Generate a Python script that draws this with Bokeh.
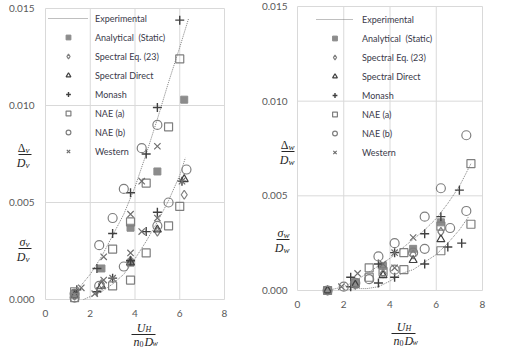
from bokeh.plotting import figure
from bokeh.models import (Legend, LegendItem, Label, Arrow, FixedTicker,
                          NumeralTickFormatter, Range1d)
from bokeh.layouts import row
from bokeh.embed import file_html
from bokeh.resources import INLINE

# ---------------- data: left panel (v) ----------------
x_ticks = [0, 2, 4, 6, 8]
y_ticks = [0.0, 0.005, 0.010, 0.015]

exp_v_x1 = [1.25, 1.5, 2.0, 2.5, 3.0, 3.5, 4.0, 4.5, 5.0, 5.5, 6.0, 6.4]
exp_v_y1 = [0.0, 0.0006, 0.0013, 0.0022, 0.0033, 0.0044, 0.0058, 0.0075, 0.0093, 0.0112, 0.0130, 0.0145]
exp_v_x2 = [1.7, 2.5, 3.0, 3.5, 4.0, 4.5, 5.0, 5.5, 6.0, 6.25]
exp_v_y2 = [0.0, 0.0004, 0.0008, 0.0013, 0.0021, 0.0030, 0.0040, 0.0051, 0.0064, 0.0073]

ana_v_x = [1.3, 2.5, 3.8, 5.0, 6.2, 3.8]
ana_v_y = [0.0003, 0.0016, 0.0037, 0.0066, 0.0103, 0.0019]
speq_v_x = [1.3, 2.5, 3.8, 5.0, 6.2]
speq_v_y = [0.0002, 0.0008, 0.0020, 0.0035, 0.0054]
spdir_v_x = [1.3, 2.5, 3.8, 5.0, 6.2]
spdir_v_y = [0.0002, 0.0007, 0.0019, 0.0036, 0.0062]
mon_v_x = [1.4, 2.3, 3.0, 3.8, 4.5, 5.0, 6.0, 2.3, 3.0, 3.8, 4.5, 5.0, 6.1]
mon_v_y = [0.0005, 0.0016, 0.0034, 0.0055, 0.0075, 0.0099, 0.0144, 0.0004, 0.0011, 0.0020, 0.0035, 0.0045, 0.0061]
naea_v_x = [1.3, 3.0, 3.8, 4.5, 5.5, 6.0, 1.3, 3.0, 3.8, 4.5, 5.5, 6.0]
naea_v_y = [0.0004, 0.0026, 0.0040, 0.0060, 0.0089, 0.0124, 0.0001, 0.0007, 0.0010, 0.0024, 0.0038, 0.0048]
naeb_v_x = [1.3, 2.4, 3.0, 3.5, 4.3, 5.0, 1.3, 2.4, 3.5, 5.0, 5.5, 6.3]
naeb_v_y = [0.0003, 0.0028, 0.0042, 0.0057, 0.0078, 0.0090, 0.0001, 0.0007, 0.0017, 0.0038, 0.0050, 0.0067]
west_v_x = [1.6, 2.6, 3.8, 4.3, 5.0, 2.2, 2.6, 3.0, 3.8, 4.3, 5.0, 6.1]
west_v_y = [0.0006, 0.0022, 0.0044, 0.0061, 0.0079, 0.0003, 0.0010, 0.0011, 0.0024, 0.0035, 0.0042, 0.0061]

# ---------------- data: right panel (w) ----------------
exp_w_x1 = [1.3, 2.0, 2.5, 3.0, 3.5, 4.0, 4.5, 5.0, 5.5, 6.0, 6.5, 7.0, 7.5]
exp_w_y1 = [0.0, 0.0002, 0.0005, 0.0009, 0.0013, 0.0017, 0.0022, 0.0027, 0.0032, 0.0038, 0.0046, 0.0055, 0.0067]
exp_w_x2 = [1.9, 2.5, 3.0, 3.5, 4.0, 4.5, 5.0, 5.5, 6.0, 6.5, 7.0, 7.4]
exp_w_y2 = [0.0, 0.0001, 0.0001, 0.0002, 0.0005, 0.0009, 0.0011, 0.0015, 0.0019, 0.0025, 0.0032, 0.0039]

ana_w_x = [1.3, 2.5, 3.7, 5.0, 6.2]
ana_w_y = [0.0, 0.0004, 0.0013, 0.0022, 0.0036]
speq_w_x = [1.3, 2.5, 3.7, 5.0, 6.2]
speq_w_y = [0.0, 0.0003, 0.0009, 0.0019, 0.0031]
spdir_w_x = [1.3, 2.5, 3.7, 5.0, 6.2]
spdir_w_y = [0.0, 0.0003, 0.0008, 0.0016, 0.0027]
mon_w_x = [2.3, 2.3, 3.5, 3.5, 4.2, 4.2, 5.5, 5.5, 6.2, 6.5, 7.0, 7.1]
mon_w_y = [0.0007, 0.0002, 0.0014, 0.0004, 0.0020, 0.0007, 0.0030, 0.0014, 0.0039, 0.0023, 0.0053, 0.0025]
naea_w_x = [1.3, 2.5, 3.1, 3.1, 3.7, 4.6, 4.6, 6.2, 6.2, 7.5, 7.5]
naea_w_y = [0.0, 0.0004, 0.0012, 0.0007, 0.0010, 0.0020, 0.0011, 0.0034, 0.0021, 0.0067, 0.0035]
naeb_w_x = [1.3, 2.0, 2.5, 3.1, 3.5, 4.2, 4.2, 5.0, 5.5, 5.5, 6.2, 6.6, 7.3, 7.3]
naeb_w_y = [0.0, 0.0002, 0.0004, 0.0006, 0.0018, 0.0025, 0.0011, 0.0020, 0.0039, 0.0022, 0.0054, 0.0033, 0.0082, 0.0042]
west_w_x = [1.9, 2.6, 3.7, 4.2, 4.2, 5.0]
west_w_y = [0.0002, 0.0009, 0.0014, 0.0020, 0.0012, 0.0028]

labels = ["Experimental", "Analytical  (Static)", "Spectral Eq. (23)", "Spectral Direct",
          "Monash", "NAE (a)", "NAE (b)", "Western"]

TICK_FONT = "Lato"
GRID = "#d9d9d9"
MATH_FONT = "Liberation Serif"
MATH_COLOR = "#262626"
H = 350


def make_panel(W, px0, px1, py_top, py_bot, ystand, data, leg_x, leg_top, glyph_w, standoff):
    xmax, ymax = x_ticks[-1], y_ticks[-1]
    kx = (px1 - px0) / xmax
    ky = (py_bot - py_top) / ymax
    p = figure(width=W, height=H,
               x_range=Range1d(-px0 / kx, (W - px0) / kx),
               y_range=Range1d(-(H - py_bot) / ky, ymax + py_top / ky),
               output_backend="svg", toolbar_location=None,
               min_border=0, min_border_left=0, min_border_right=0,
               min_border_top=0, min_border_bottom=0)
    p.background_fill_color = "white"
    p.border_fill_color = "white"
    p.outline_line_color = None
    p.xgrid.visible = False
    p.ygrid.visible = False

    # gridlines / plot-area box at the tick positions
    p.segment(x0=x_ticks, y0=[0] * len(x_ticks), x1=x_ticks, y1=[ymax] * len(x_ticks),
              line_color=GRID, line_width=1)
    p.segment(x0=[0] * len(y_ticks), y0=y_ticks, x1=[xmax] * len(y_ticks), y1=y_ticks,
              line_color=GRID, line_width=1)

    p.xaxis.ticker = FixedTicker(ticks=x_ticks)
    p.yaxis.ticker = FixedTicker(ticks=y_ticks)
    p.yaxis.formatter = NumeralTickFormatter(format="0.000")
    p.xaxis.fixed_location = 0
    p.yaxis.fixed_location = 0
    for ax in (p.xaxis[0], p.yaxis[0]):
        ax.axis_line_color = None
        ax.major_tick_line_color = None
        ax.minor_tick_line_color = None
        ax.major_label_text_font = TICK_FONT
        ax.major_label_text_font_size = "10px"
        ax.major_label_text_color = "#595959"
    p.xaxis.major_label_standoff = 4
    p.yaxis.major_label_standoff = ystand

    (ex1, ey1, ex2, ey2, ax_, ay_, sx_, sy_, dx_, dy_, mx_, my_, nax, nay, nbx, nby, wx_, wy_) = data
    r_exp = p.line(ex1, ey1, line_color="#7f7f7f", line_dash="1 1", line_width=1)
    p.line(ex2, ey2, line_color="#7f7f7f", line_dash="1 1", line_width=1)
    r_ana = p.scatter(ax_, ay_, marker="square", size=7, fill_color="#8c8c8c", line_color="#8c8c8c")
    r_seq = p.scatter(sx_, sy_, marker="diamond", size=9, fill_color=None, line_color="#7f7f7f", line_width=1.2)
    r_sdi = p.scatter(dx_, dy_, marker="triangle", size=8, fill_color=None, line_color="#404040", line_width=1.2)
    r_mon = p.scatter(mx_, my_, marker="cross", size=9, line_color="#404040", line_width=1.4)
    r_naa = p.scatter(nax, nay, marker="square", size=8, fill_color=None, line_color="#7f7f7f", line_width=1.2)
    r_nab = p.scatter(nbx, nby, marker="circle", size=9, fill_color=None, line_color="#7f7f7f", line_width=1.2)
    r_wes = p.scatter(wx_, wy_, marker="x", size=9, line_color="#6f6f6f", line_width=1.2)

    rends = [r_exp, r_ana, r_seq, r_sdi, r_mon, r_naa, r_nab, r_wes]
    items = [LegendItem(label=l, renderers=[r]) for l, r in zip(labels, rends)]
    leg_h = 8 * 12 + 7 * 7
    leg = Legend(items=items, location=(leg_x, H - leg_top - leg_h), padding=0, margin=0, spacing=7,
                 glyph_height=12, label_height=12, glyph_width=glyph_w, label_standoff=standoff,
                 background_fill_alpha=0, border_line_alpha=0,
                 label_text_font=TICK_FONT, label_text_font_size="9px", label_text_color="#3a3a4a")
    p.add_layout(leg)
    return p


def put(p, cx, cy, text, size, align, style="italic"):
    p.add_layout(Label(x=cx, y=H - cy, x_units="screen", y_units="screen", text=text,
                       text_font=MATH_FONT, text_font_size=f"{size}px", text_font_style=style,
                       text_align=align, text_baseline="middle", text_color=MATH_COLOR))


def bar(p, x0, x1, cy):
    p.add_layout(Arrow(x_start=x0, y_start=H - cy, x_end=x1, y_end=H - cy,
                       start_units="screen", end_units="screen", start=None, end=None,
                       line_color=MATH_COLOR, line_width=1))


def yfrac(p, cx, cy, nmain, nstyle, sub):
    put(p, cx + 1, cy - 7, nmain, 12, "right", nstyle)
    put(p, cx + 1, cy - 5, sub, 9, "left")
    bar(p, cx - 6, cx + 7, cy)
    put(p, cx + 1, cy + 8, "D", 12, "right")
    put(p, cx + 1, cy + 10, sub, 9, "left")


def xfrac(p, cx, cy):
    put(p, cx + 2, cy - 7, "U", 12, "right")
    put(p, cx + 2, cy - 5, "H", 8, "left")
    bar(p, cx - 12, cx + 12, cy)
    put(p, cx - 4, cy + 7, "n", 12, "right")
    put(p, cx - 4, cy + 9, "0", 8, "left", "normal")
    put(p, cx + 1, cy + 7, "D", 12, "left")
    put(p, cx + 9, cy + 9, "w", 8, "left")


W1, W2 = 254, 254

left_data = (exp_v_x1, exp_v_y1, exp_v_x2, exp_v_y2, ana_v_x, ana_v_y, speq_v_x, speq_v_y,
             spdir_v_x, spdir_v_y, mon_v_x, mon_v_y, naea_v_x, naea_v_y, naeb_v_x, naeb_v_y,
             west_v_x, west_v_y)
p1 = make_panel(W1, 45, 224, 8, 299, 5, left_data, 48, 12, 40, 7)
yfrac(p1, 24, 154, "Δ", "normal", "v")
yfrac(p1, 24, 248, "σ", "italic", "v")
xfrac(p1, 143, 334)

right_data = (exp_w_x1, exp_w_y1, exp_w_x2, exp_w_y2, ana_w_x, ana_w_y, speq_w_x, speq_w_y,
              spdir_w_x, spdir_w_y, mon_w_x, mon_w_y, naea_w_x, naea_w_y, naeb_w_x, naeb_w_y,
              west_w_x, west_w_y)
o = W1
p2 = make_panel(W2, 297 - o, 482 - o, 6, 290, 4, right_data, 316 - o, 13, 37, 9)
yfrac(p2, 287 - o, 151, "Δ", "normal", "w")
yfrac(p2, 282 - o, 239, "σ", "italic", "w")
xfrac(p2, 403 - o, 333)

layout = row(p1, p2)
open("out.html", "w").write(file_html(layout, INLINE))
